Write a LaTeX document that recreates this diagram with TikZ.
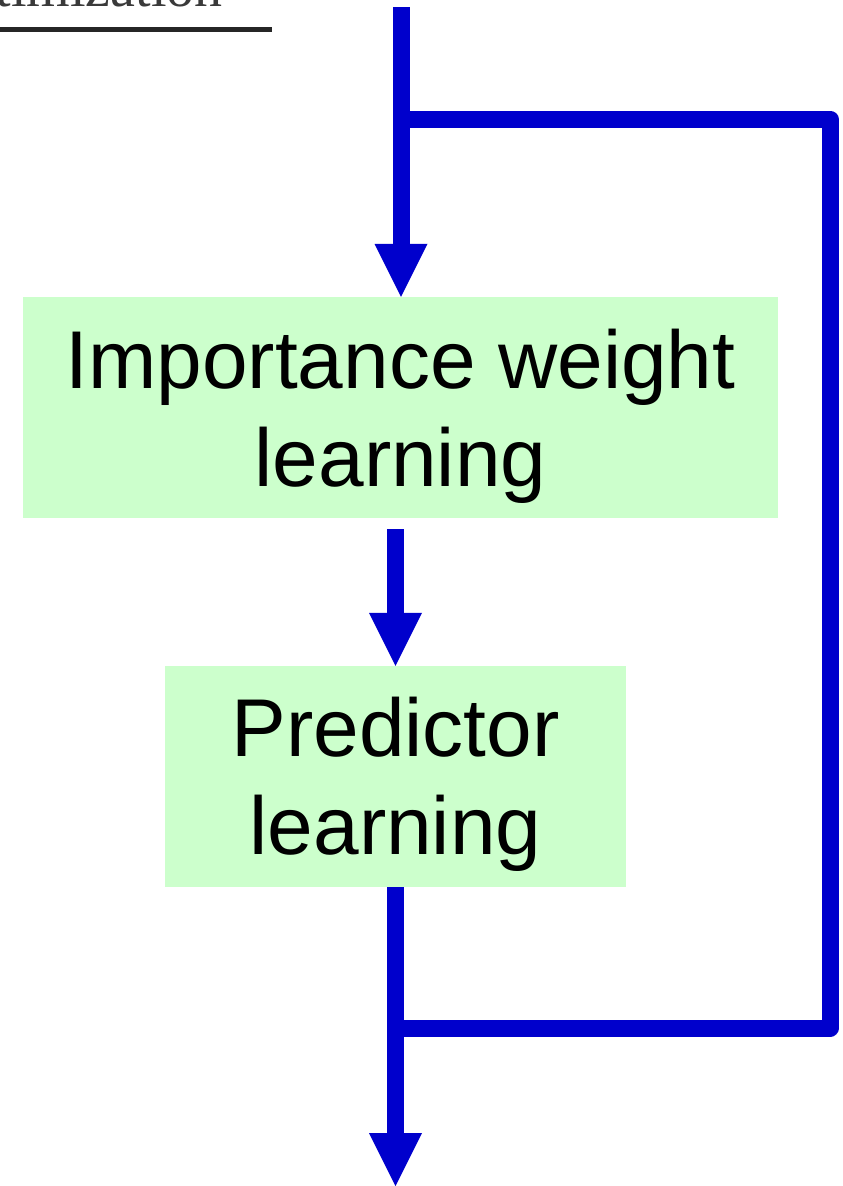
\documentclass[tikz,border=0pt]{standalone}
\usepackage{fontspec}
\setmainfont{Liberation Sans}
\newfontfamily\serifpart{Liberation Serif}
\usetikzlibrary{arrows.meta,calc}
\definecolor{flowblue}{HTML}{0000CC}
\definecolor{boxgreen}{HTML}{CCFFCC}
\definecolor{ruletext}{HTML}{3A3A3A}
\definecolor{rulecol}{HTML}{262626}
\tikzset{
  flow/.style={draw=flowblue, line width=17pt, line join=round},
  flowarrow/.style={flow, -{Triangle[width=53pt,length=53pt,line width=0pt]}},
  stepbox/.style={fill=boxgreen, draw=none, inner sep=0pt},
  boxlabel/.style={align=center, inner sep=0pt, font=\fontsize{82pt}{98pt}\selectfont, text=black},
}
\begin{document}
\begin{tikzpicture}[x=1pt,y=-1pt]
\useasboundingbox (0,0) rectangle (843,1186);
% cropped header text and rule
\node[anchor=base east, inner sep=0pt, text=ruletext, font=\serifpart\fontsize{56pt}{60pt}\selectfont] (hdr) at (223,6.5) {Optimization};
\draw[rulecol, line width=5pt] (0,29) -- (272,29);
% boxes
\node[stepbox, minimum width=755pt, minimum height=221pt] (b1) at (400.5,407.5) {};
\node[boxlabel] (t1) at (400.5,416.5) {Importance weight\\learning};
\node[stepbox, minimum width=461pt, minimum height=221pt] (b2) at (395.5,776.5) {};
\node[boxlabel] (t2) at (395.5,784.5) {Predictor\\learning};
% coordinates
\coordinate (in) at (401,7);
\coordinate (j1) at (401,119);
\coordinate (r1) at (830,119);
\coordinate (r2) at (830,1028);
\coordinate (j2) at (395.5,1028);
\coordinate (out) at (395.5,1186);
% connectors
\draw[flow] (in) -- (j1);
\draw[flow] (j1) -- (r1) -- (r2) -- (j2);
\draw[flowarrow] (j1) -- (b1.north -| j1);
\draw[flowarrow, shorten <=11pt] (b2.north |- b1.south) -- (b2.north);
\draw[flowarrow] (b2.south) -- (out);
\end{tikzpicture}
\end{document}
